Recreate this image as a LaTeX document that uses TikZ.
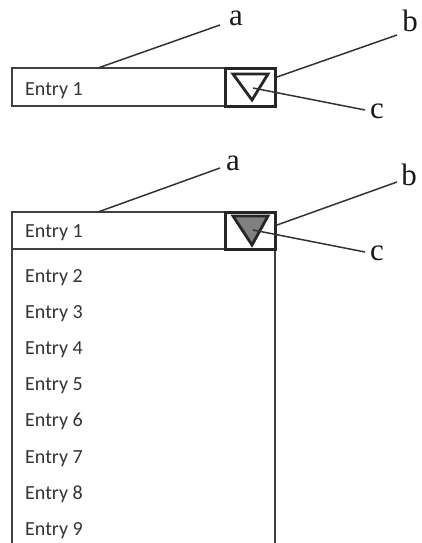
\documentclass[tikz,border=0pt]{standalone}
\usepackage{fontspec}
\setmainfont{Liberation Serif}
\newfontfamily\uifont{Carlito}

\tikzset{
  frame/.style={draw=black!75, line width=1.5pt},
  button/.style={draw=black!85, line width=3pt},
  leader/.style={draw=black!80, line width=1.5pt},
  entry/.style={anchor=base west, inner sep=0pt, text=black!80, font=\uifont\fontsize{20}{24}\selectfont},
  callout/.style={anchor=base, inner sep=0pt, text=black!90, font=\fontsize{31}{33}\selectfont}
}

\begin{document}
\begin{tikzpicture}[x=1pt, y=-1pt]
\useasboundingbox (0,0) rectangle (422,543);

% closed box
\draw[frame] (12,68) rectangle (275,106);
\draw[button] (225,68) rectangle (275,106);
\draw[line width=2.8pt, black!85, line join=miter] (233,74) -- (268,74) -- (252,100) -- cycle;
\node[entry] (closed1) at (25,95) {Entry 1};

\coordinate (fieldA) at (98,68);
\coordinate (buttonA) at (277,77);
\coordinate (arrowA) at (253,88);
\node[callout] (labelA) at (236,26) {a};
\node[callout] (labelB) at (410,32) {b};
\node[callout] (labelC) at (377,118) {c};
\draw[leader] (fieldA) -- (220,25);
\draw[leader] (buttonA) -- (397,35);
\draw[leader] (arrowA) -- (365,110);

% open box
\draw[frame] (12,212) rectangle (275,249);
\draw[frame] (12,249) -- (12,543);
\draw[frame] (275,249) -- (275,543);
\draw[button] (225,212) rectangle (275,249);
\draw[line width=2.8pt, black!85, fill=black!50, line join=miter] (233,216) -- (268,216) -- (252,245) -- cycle;
\node[entry] (open1) at (25,237) {Entry 1};
\foreach \i in {2,...,9}
  \node[entry] (open\i) at (25,{282+(\i-2)*36.2}) {Entry \i};

\coordinate (fieldB) at (98,212);
\coordinate (buttonB) at (277,225);
\coordinate (arrowB) at (253,230);
\node[callout] (labelA2) at (233,170) {a};
\node[callout] (labelB2) at (409,185) {b};
\node[callout] (labelC2) at (377,260) {c};
\draw[leader] (fieldB) -- (220,168);
\draw[leader] (buttonB) -- (397,182);
\draw[leader] (arrowB) -- (365,252);
\end{tikzpicture}
\end{document}
